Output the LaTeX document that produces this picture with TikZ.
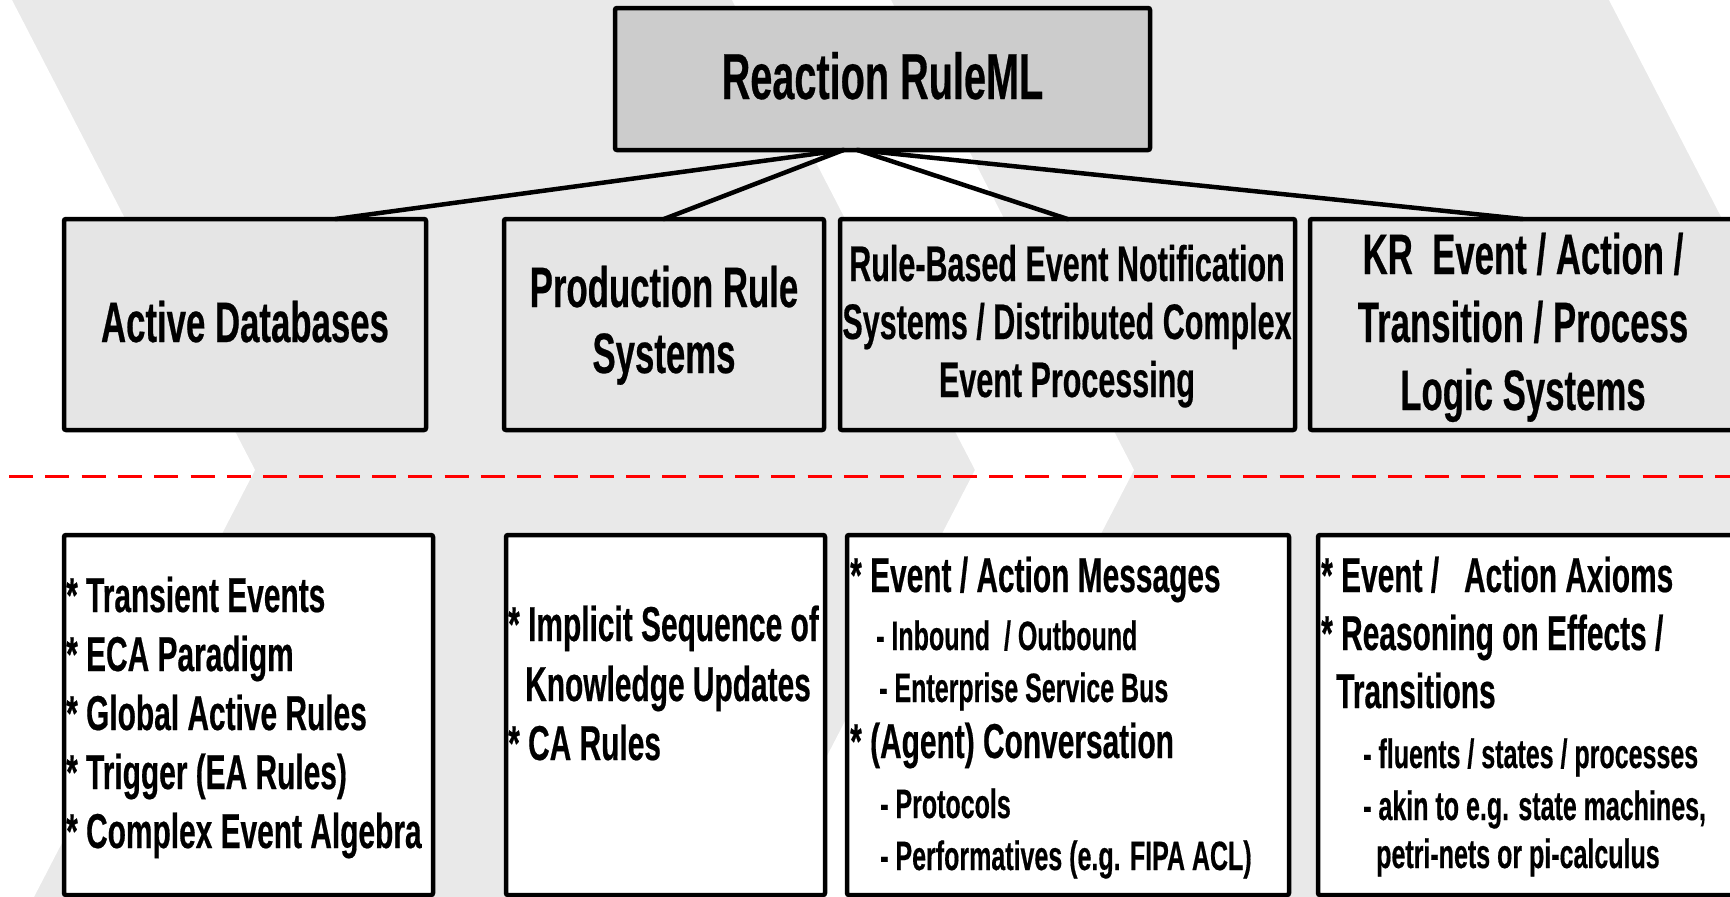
\documentclass[tikz,border=0pt]{standalone}
\usepackage{fontspec}
\setmainfont{Liberation Sans}[FakeStretch=0.61, BoldFeatures={FakeBold=0.4}]
\usetikzlibrary{calc}
\definecolor{bgray}{HTML}{E9E9E9}
\definecolor{boxgray}{HTML}{E5E5E5}
\definecolor{titlegray}{HTML}{CCCCCC}
\definecolor{dashred}{HTML}{FF0000}
\tikzset{
  box/.style={draw=black, line width=4.5pt, rounded corners=2pt, inner sep=0pt, outer sep=0pt},
  titlebox/.style={box, fill=titlegray, minimum width=535pt, minimum height=142pt},
  toprow/.style={box, fill=boxgray, minimum height=211pt},
  botrow/.style={box, fill=white, minimum height=360pt},
  conn/.style={draw=black, line width=4.5pt, line cap=round},
  sepline/.style={draw=dashred, line width=3pt, dash pattern=on 24pt off 12.3pt},
  ttl/.style={font=\fontsize{65}{70}\selectfont\bfseries, inner sep=0pt, anchor=base},
  head/.style={font=\fontsize{57}{66}\selectfont\bfseries, inner sep=0pt, anchor=base},
  headsm/.style={font=\fontsize{50}{58}\selectfont\bfseries, inner sep=0pt, anchor=base},
  item/.style={font=\fontsize{49}{58}\selectfont\bfseries, inner sep=0pt, anchor=base west},
  subitem/.style={font=\fontsize{41}{48}\selectfont\bfseries, inner sep=0pt, anchor=base west},
}
\begin{document}
\begin{tikzpicture}[x=1pt,y=-1pt]
\useasboundingbox (0,0) rectangle (1730,897);
\clip (0,0) rectangle (1730,897);
% background chevrons
\fill[bgray] (0,0) rectangle (1730,897);
\fill[white] (-10,0) -- (12,0) -- (255,470) -- (34,897) -- (-10,897) -- cycle;
\fill[white] (732,0) -- (891,0) -- (1134,470) -- (913,897) -- (754,897) -- (975,470) -- cycle;
\fill[white] (1609,0) -- (1900,0) -- (1900,897) -- (1631,897) -- (1852,470) -- cycle;

% separator
\coordinate (dl) at (9,476.5);
\coordinate (dr) at (1745,476.5);
\draw[sepline] (dl) -- (dr);

% boxes
\node[titlebox] (title) at (882.5,79) {};
\node[toprow, minimum width=362pt] (ad) at (245,324.5) {};
\node[toprow, minimum width=320pt] (pr) at (664,324.5) {};
\node[toprow, minimum width=455pt] (rb) at (1067.5,324.5) {};
\node[toprow, minimum width=435pt] (kr) at (1527.5,324.5) {};
\node[botrow, minimum width=369pt] (b1) at (248.5,715) {};
\node[botrow, minimum width=319pt] (b2) at (665.5,715) {};
\node[botrow, minimum width=442pt] (b3) at (1068,715) {};
\node[botrow, minimum width=427pt] (b4) at (1531.5,715) {};

% connectors
\coordinate (hl) at ($(title.south)+(-39,0)$);
\coordinate (hr) at ($(title.south)+(-25,0)$);
\draw[conn] (hl) -- ($(ad.north west)!0.75!(ad.north east)$);
\draw[conn] (hl) -- (pr.north);
\draw[conn] (hr) -- (rb.north);
\draw[conn] (hr) -- ($(kr.north)+(-5,0)$);

% title text
\node[ttl] (t0) at (882.5,99) {Reaction RuleML};

% top row texts
\node[head] (ad1) at (245,342) {Active Databases};
\node[head] (pr1) at (664,307) {Production Rule};
\node[head] (pr2) at (664,373) {Systems};
\node[headsm] (rb1) at (1067,281) {Rule-Based Event Notification};
\node[headsm] (rb2) at (1067,339) {Systems / Distributed Complex};
\node[headsm] (rb3) at (1067,397) {Event Processing};
\node[head] (kr1) at (1523,274) {KR\ \ Event / Action /};
\node[head] (kr2) at (1523,342) {Transition / Process};
\node[head] (kr3) at (1523,410) {Logic Systems};

% bottom row texts
\node[item] (b1a) at (66,612) {* Transient Events};
\node[item] (b1b) at (66,671) {* ECA Paradigm};
\node[item] (b1c) at (66,730) {* Global Active Rules};
\node[item] (b1d) at (66,789) {* Trigger (EA Rules)};
\node[item] (b1e) at (66,848) {* Complex Event Algebra};

\node[item] (b2a) at (508,641) {* Implicit Sequence of};
\node[item] (b2b) at (525,701) {Knowledge Updates};
\node[item] (b2c) at (508,760) {* CA Rules};

\node[item] (b3a) at (850,592) {* Event / Action Messages};
\node[subitem] (b3b) at (876,650) {- Inbound\ \ / Outbound};
\node[subitem] (b3c) at (879,702) {- Enterprise Service Bus};
\node[item] (b3d) at (850,758) {* (Agent) Conversation};
\node[subitem] (b3e) at (880,818) {- Protocols};
\node[subitem] (b3f) at (880,870) {- Performatives (e.g. FIPA ACL)};

\node[item] (b4a) at (1321,592) {* Event /\ \ \ Action Axioms};
\node[item] (b4b) at (1321,650) {* Reasoning on Effects /};
\node[item] (b4c) at (1336,708) {Transitions};
\node[subitem] (b4d) at (1363,768) {- fluents / states / processes};
\node[subitem] (b4e) at (1363,820) {- akin to e.g. state machines,};
\node[subitem] (b4f) at (1376,868) {petri-nets or pi-calculus};
\end{tikzpicture}
\end{document}
